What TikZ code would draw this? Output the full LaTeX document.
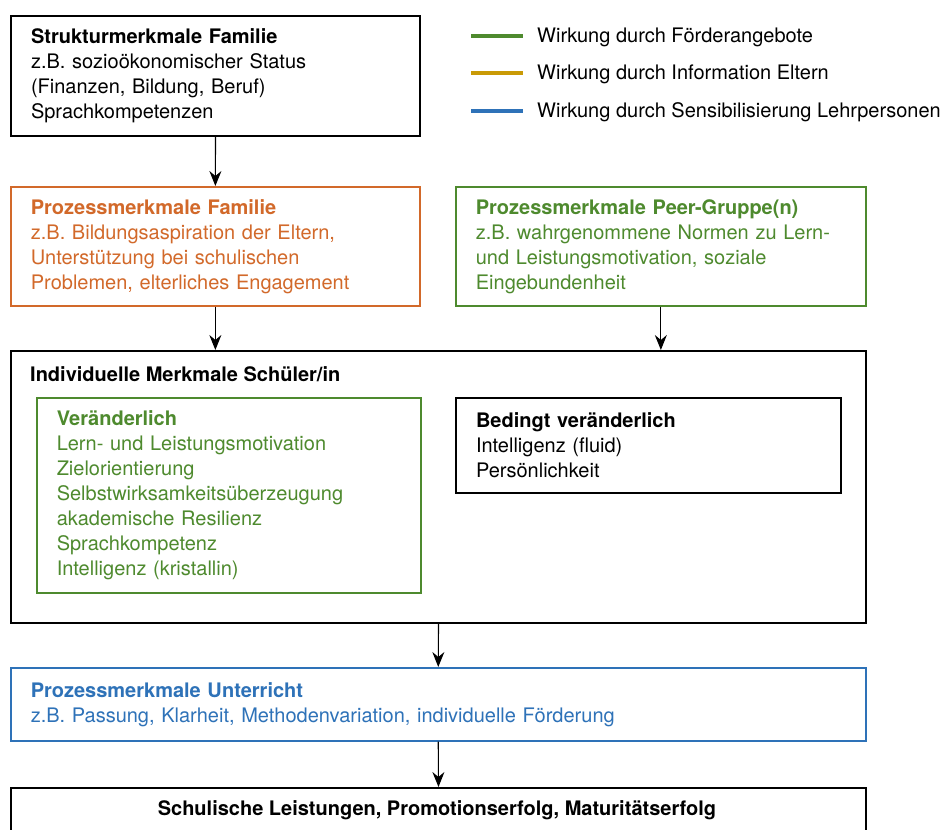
\documentclass[tikz,border=0pt]{standalone}
\usepackage{fontspec}
\setmainfont{TeX Gyre Heros}
\usetikzlibrary{arrows.meta}
\definecolor{cgreen}{RGB}{78,138,46}
\definecolor{cgold}{RGB}{201,154,6}
\definecolor{cblue}{RGB}{46,114,184}
\definecolor{corange}{RGB}{210,105,42}
\tikzset{
  box/.style={draw, line width=2pt, anchor=north west, align=left, inner xsep=20pt, inner ysep=0pt,
    font=\fontsize{20}{25}\selectfont},
  arr/.style={-{Stealth[length=15pt,width=12pt,inset=5pt]}, line width=1.1pt},
  leg/.style={line width=4pt},
  legtext/.style={anchor=west, font=\fontsize{20}{25}\selectfont, inner sep=0pt},
}
\begin{document}
\begin{tikzpicture}[x=1pt,y=-1pt]
\clip (0,0) rectangle (949,829);
\fill[white] (0,0) rectangle (949,829);
% legend
\draw[leg, cgreen] (471,36) -- (523,36);
\draw[leg, cgold] (471,73) -- (523,73);
\draw[leg, cblue] (471,111) -- (523,111);
\node[legtext] (l1) at (537,37) {Wirkung durch Förderangebote};
\node[legtext] (l2) at (537,74) {Wirkung durch Information Eltern};
\node[legtext] (l3) at (537,112) {Wirkung durch Sensibilisierung Lehrpersonen};
% boxes
\node[box, text width=369pt, minimum height=120pt] (s) at (10,15)
  {\textbf{Strukturmerkmale Familie}\\z.B. sozioökonomischer Status\\(Finanzen, Bildung, Beruf)\\Sprachkompetenzen};
\node[box, draw=corange, text=corange, line width=1.7pt, text width=369pt, minimum height=119pt] (pf) at (10,186)
  {\textbf{Prozessmerkmale Familie}\\z.B. Bildungsaspiration der Eltern,\\Unterstützung bei schulischen\\Problemen, elterliches Engagement};
\node[box, draw=cgreen, text=cgreen, line width=1.7pt, text width=370pt, minimum height=119pt] (peer) at (455,186)
  {\textbf{Prozessmerkmale Peer-Gruppe(n)}\\z.B. wahrgenommene Normen zu Lern-\\und Leistungsmotivation, soziale\\Eingebundenheit};
\node[box, text width=815pt, minimum height=272pt] (ind) at (10,350) {};
\node[anchor=base west, inner sep=0pt, font=\fontsize{20}{25}\selectfont] (indt) at (30,381) {\textbf{Individuelle Merkmale Schüler/in}};
\node[box, draw=cgreen, text=cgreen, line width=1.5pt, text width=344pt, minimum height=195pt] (ver) at (36,397)
  {\textbf{Veränderlich}\\Lern- und Leistungsmotivation\\Zielorientierung\\Selbstwirksamkeitsüberzeugung\\akademische Resilienz\\Sprachkompetenz\\Intelligenz (kristallin)};
\node[box, text width=345pt, minimum height=95pt] (bed) at (455,397)
  {\textbf{Bedingt veränderlich}\\Intelligenz (fluid)\\Persönlichkeit};
\node[box, draw=cblue, text=cblue, line width=1.5pt, text width=815pt, minimum height=73pt] (unt) at (10,667)
  {\textbf{Prozessmerkmale Unterricht}\\z.B. Passung, Klarheit, Methodenvariation, individuelle Förderung};
\node[box, text width=815pt, minimum height=60pt] (sch) at (10,787) {};
\node[anchor=base, inner sep=0pt, font=\fontsize{20}{25}\selectfont] (scht) at (437,815) {\textbf{Schulische Leistungen, Promotionserfolg, Maturitätserfolg}};
% arrows
\draw[arr] (s.south) -- (pf.north);
\draw[arr] (pf.south) -- (pf.south |- ind.north);
\draw[arr] (peer.south) -- (peer.south |- ind.north);
\draw[arr] (ind.south) -- (unt.north);
\draw[arr] (unt.south) -- (sch.north);
\end{tikzpicture}
\end{document}
